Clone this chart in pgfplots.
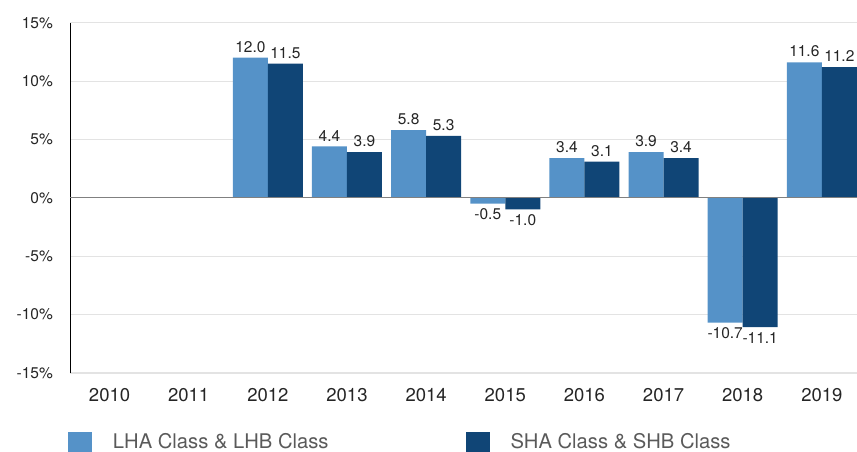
\documentclass[border=0pt]{standalone}
\usepackage{pgfplots}
\pgfplotsset{compat=1.18}
\usepackage{fontspec}
\setmainfont{TeX Gyre Heros}
\definecolor{lightbar}{HTML}{5592C8}
\definecolor{darkbar}{HTML}{104576}
\definecolor{gridgray}{HTML}{E3E3E3}
\definecolor{zerogray}{HTML}{808080}
\definecolor{txt}{HTML}{252525}
\definecolor{legtxt}{HTML}{5A5A5A}
\begin{document}
\begin{tikzpicture}
\begin{axis}[
  name=ax,
  scale only axis,
  width=791.4bp, height=350bp,
  xmin=-0.5, xmax=9.5,
  ymin=-15, ymax=15,
  ybar=0pt, bar width=35bp,
  xtick={0,...,9},
  xticklabels={2010,2011,2012,2013,2014,2015,2016,2017,2018,2019},
  ytick={-15,-10,...,15},
  yticklabel={\pgfmathprintnumber{\tick}\%},
  /pgf/number format/assume math mode=true,
  major tick length=0pt,
  axis x line*=bottom, axis y line*=left,
  x axis line style={draw=gridgray, line width=2bp, -},
  y axis line style={draw=black, line width=0.9bp, -},
  ymajorgrids,
  major grid style={draw=gridgray, line width=1bp},
  yticklabel style={font=\fontsize{15.5bp}{18bp}\selectfont, text=txt, anchor=east, inner sep=0pt, xshift=-17bp},
  xticklabel style={font=\fontsize{18.5bp}{22bp}\selectfont, text=txt, anchor=north, inner sep=0pt, yshift=-15bp},
  nodes near coords,
  nodes near coords style={font=\fontsize{15.5bp}{18bp}\selectfont, text=txt, inner sep=5bp,
    /pgf/number format/.cd, fixed, fixed zerofill, precision=1, assume math mode=true},
  every axis plot post/.append style={legend image code/.code={\fill[##1,draw=none] (0bp,-10bp) rectangle (24bp,10bp);}},
  legend style={draw=none, fill=none, inner sep=0pt, outer sep=0pt,
    at={(axis description cs:0,0)}, anchor=north west, xshift=-2bp, yshift=-59bp,
    legend columns=2,
    nodes={inner sep=0pt, font=\fontsize{20.2bp}{24bp}\selectfont, text=legtxt},
    /tikz/every odd column/.append style={column sep=21bp},
    /tikz/every even column/.append style={column sep=137bp}},
]
\addplot[fill=lightbar, draw=none] coordinates {(2,12.0) (3,4.4) (4,5.8) (5,-0.5) (6,3.4) (7,3.9) (8,-10.7) (9,11.6)};
\addplot[fill=darkbar, draw=none] coordinates {(2,11.5) (3,3.9) (4,5.3) (5,-1.0) (6,3.1) (7,3.4) (8,-11.1) (9,11.2)};
\legend{LHA Class \& LHB Class, SHA Class \& SHB Class}
\draw[zerogray, line width=1.5bp] (axis cs:-0.5,0) -- (axis cs:9.5,0);
\end{axis}
\pgfresetboundingbox
\path ([shift={(-70bp,-79.3bp)}]ax.south west) rectangle ([shift={(787bp,22.7bp)}]ax.north west);
\end{tikzpicture}
\end{document}
